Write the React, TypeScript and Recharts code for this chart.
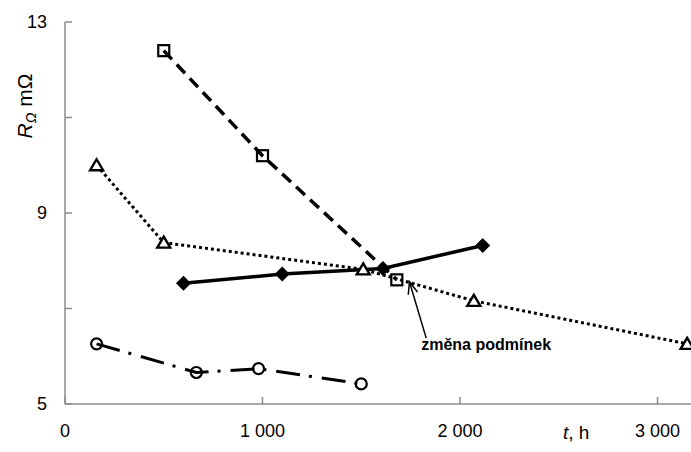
import React from 'react';
import { LineChart, Line, XAxis, YAxis, ReferenceLine } from 'recharts';

// t [h] / R [mOhm], one array per measurement series
const squareSeries = [
  { x: 500, y: 12.4 },
  { x: 1000, y: 10.2 },
  { x: 1680, y: 7.6 },
];
const triangleSeries = [
  { x: 160, y: 10.0 },
  { x: 500, y: 8.38 },
  { x: 1510, y: 7.82 },
  { x: 2070, y: 7.16 },
  { x: 3150, y: 6.26 },
];
const diamondSeries = [
  { x: 600, y: 7.53 },
  { x: 1100, y: 7.72 },
  { x: 1610, y: 7.84 },
  { x: 2115, y: 8.32 },
];
const circleSeries = [
  { x: 160, y: 6.26 },
  { x: 665, y: 5.66 },
  { x: 980, y: 5.74 },
  { x: 1500, y: 5.42 },
];

const xTicks = [0, 1000, 2000, 3000];
const yTicks = [5, 7, 9, 11, 13];
const yLabeled = [5, 9, 13];

const annotationText = 'změna podmínek';
const arrowSegment = [
  { x: 1829, y: 6.38 },
  { x: 1744, y: 7.56 },
];

const AXIS = '#8c8c8c';
const FONT = '"Liberation Sans", Arial, sans-serif';

const fmt = (n: number) => String(n).replace(/\B(?=(\d{3})+(?!\d))/g, ' ');

const BottomTick = (p: any) => (
  <g>
    <line x1={p.x} x2={p.x} y1={p.y} y2={p.y - 7} stroke={AXIS} strokeWidth={1.5} />
    <text x={p.x} y={p.y + 33} textAnchor="middle" fontSize={18} fontFamily={FONT} fill="#000">
      {fmt(p.payload.value)}
    </text>
  </g>
);

const TopTick = (p: any) => (
  <line x1={p.x} x2={p.x} y1={p.y} y2={p.y + 7} stroke={AXIS} strokeWidth={1.5} />
);

const LeftTick = (p: any) => (
  <g>
    <line x1={p.x} x2={p.x + 7} y1={p.y} y2={p.y} stroke={AXIS} strokeWidth={1.5} />
    {yLabeled.includes(p.payload.value) && (
      <text x={p.x - 18} y={p.y + 6} textAnchor="end" fontSize={18} fontFamily={FONT} fill="#000">
        {p.payload.value}
      </text>
    )}
  </g>
);

const SquareDot = ({ cx, cy, index }: any) => (
  <rect key={index} x={cx - 5.5} y={cy - 5.5} width={11} height={11} fill="none" stroke="#000" strokeWidth={2.2} />
);
const TriangleDot = ({ cx, cy, index }: any) => (
  <path key={index} d={`M${cx},${cy - 6}L${cx + 6.5},${cy + 5}L${cx - 6.5},${cy + 5}Z`} fill="#fff" stroke="#000" strokeWidth={2.4} />
);
const DiamondDot = ({ cx, cy, index }: any) => (
  <path key={index} d={`M${cx},${cy - 7.5}L${cx + 7.5},${cy}L${cx},${cy + 7.5}L${cx - 7.5},${cy}Z`} fill="#000" />
);
const CircleDot = ({ cx, cy, index }: any) => (
  <circle key={index} cx={cx} cy={cy} r={5.5} fill="none" stroke="#000" strokeWidth={2.2} />
);

const ArrowShape = (p: any) => {
  const { x1, y1, x2, y2 } = p;
  const a = Math.atan2(y2 - y1, x2 - x1);
  const len = 13;
  const spread = 0.38;
  const h1x = x2 - len * Math.cos(a - spread);
  const h1y = y2 - len * Math.sin(a - spread);
  const h2x = x2 - len * Math.cos(a + spread);
  const h2y = y2 - len * Math.sin(a + spread);
  return (
    <g>
      <line x1={x1} y1={y1} x2={x2} y2={y2} stroke="#000" strokeWidth={1.5} />
      <polyline points={`${h1x},${h1y} ${x2},${y2} ${h2x},${h2y}`} fill="none" stroke="#000" strokeWidth={1.5} />
      <text x={x1 - 5} y={y1 + 12} fontSize={16} fontWeight="bold" fontFamily={FONT} fill="#000">
        {annotationText}
      </text>
    </g>
  );
};

export default function App() {
  return (
    <div style={{ position: 'absolute', left: 0, top: 0, width: 691, height: 452, overflow: 'hidden', background: '#fff' }}>
      <LineChart width={700} height={452} margin={{ top: 22, right: 3, left: 0, bottom: 0 }}>
        <XAxis
          type="number"
          dataKey="x"
          domain={[0, 3200]}
          ticks={xTicks}
          height={48}
          tickSize={0}
          tickMargin={0}
          tickLine={false}
          axisLine={{ stroke: AXIS, strokeWidth: 1.5 }}
          tick={BottomTick}
          allowDataOverflow
        />
        <XAxis
          xAxisId="top"
          orientation="top"
          type="number"
          dataKey="x"
          domain={[0, 3200]}
          ticks={xTicks}
          height={0}
          tickSize={0}
          tickMargin={0}
          tickLine={false}
          axisLine={{ stroke: AXIS, strokeWidth: 1.5 }}
          tick={TopTick}
          allowDataOverflow
        />
        <YAxis
          type="number"
          dataKey="y"
          domain={[5, 13]}
          ticks={yTicks}
          width={65}
          tickSize={0}
          tickMargin={0}
          tickLine={false}
          axisLine={{ stroke: AXIS, strokeWidth: 1.5 }}
          tick={LeftTick}
          allowDataOverflow
        />
        <Line data={squareSeries} dataKey="y" stroke="#000" strokeWidth={3.5} strokeDasharray="12 7"
          dot={SquareDot} activeDot={false} isAnimationActive={false} />
        <Line data={triangleSeries} dataKey="y" stroke="#000" strokeWidth={3} strokeDasharray="3 3"
          dot={TriangleDot} activeDot={false} isAnimationActive={false} />
        <Line data={circleSeries} dataKey="y" stroke="#000" strokeWidth={3} strokeDasharray="24 9 3 10"
          dot={CircleDot} activeDot={false} isAnimationActive={false} />
        <Line data={diamondSeries} dataKey="y" stroke="#000" strokeWidth={3.5}
          dot={DiamondDot} activeDot={false} isAnimationActive={false} />
        <ReferenceLine segment={arrowSegment} shape={ArrowShape} ifOverflow="visible" />
        <text transform="rotate(-90, 32, 106)" x={32} y={106} textAnchor="middle" fontSize={21} fontFamily={FONT} fill="#000">
          <tspan fontStyle="italic">R</tspan>
          <tspan fontStyle="italic" fontSize={14} dy={4}>Ω</tspan>
          <tspan dy={-4}> mΩ</tspan>
        </text>
        <text x={563} y={439} fontSize={19} fontFamily={FONT} fill="#000">
          <tspan fontStyle="italic">t</tspan>
          <tspan>, h</tspan>
        </text>
      </LineChart>
    </div>
  );
}
